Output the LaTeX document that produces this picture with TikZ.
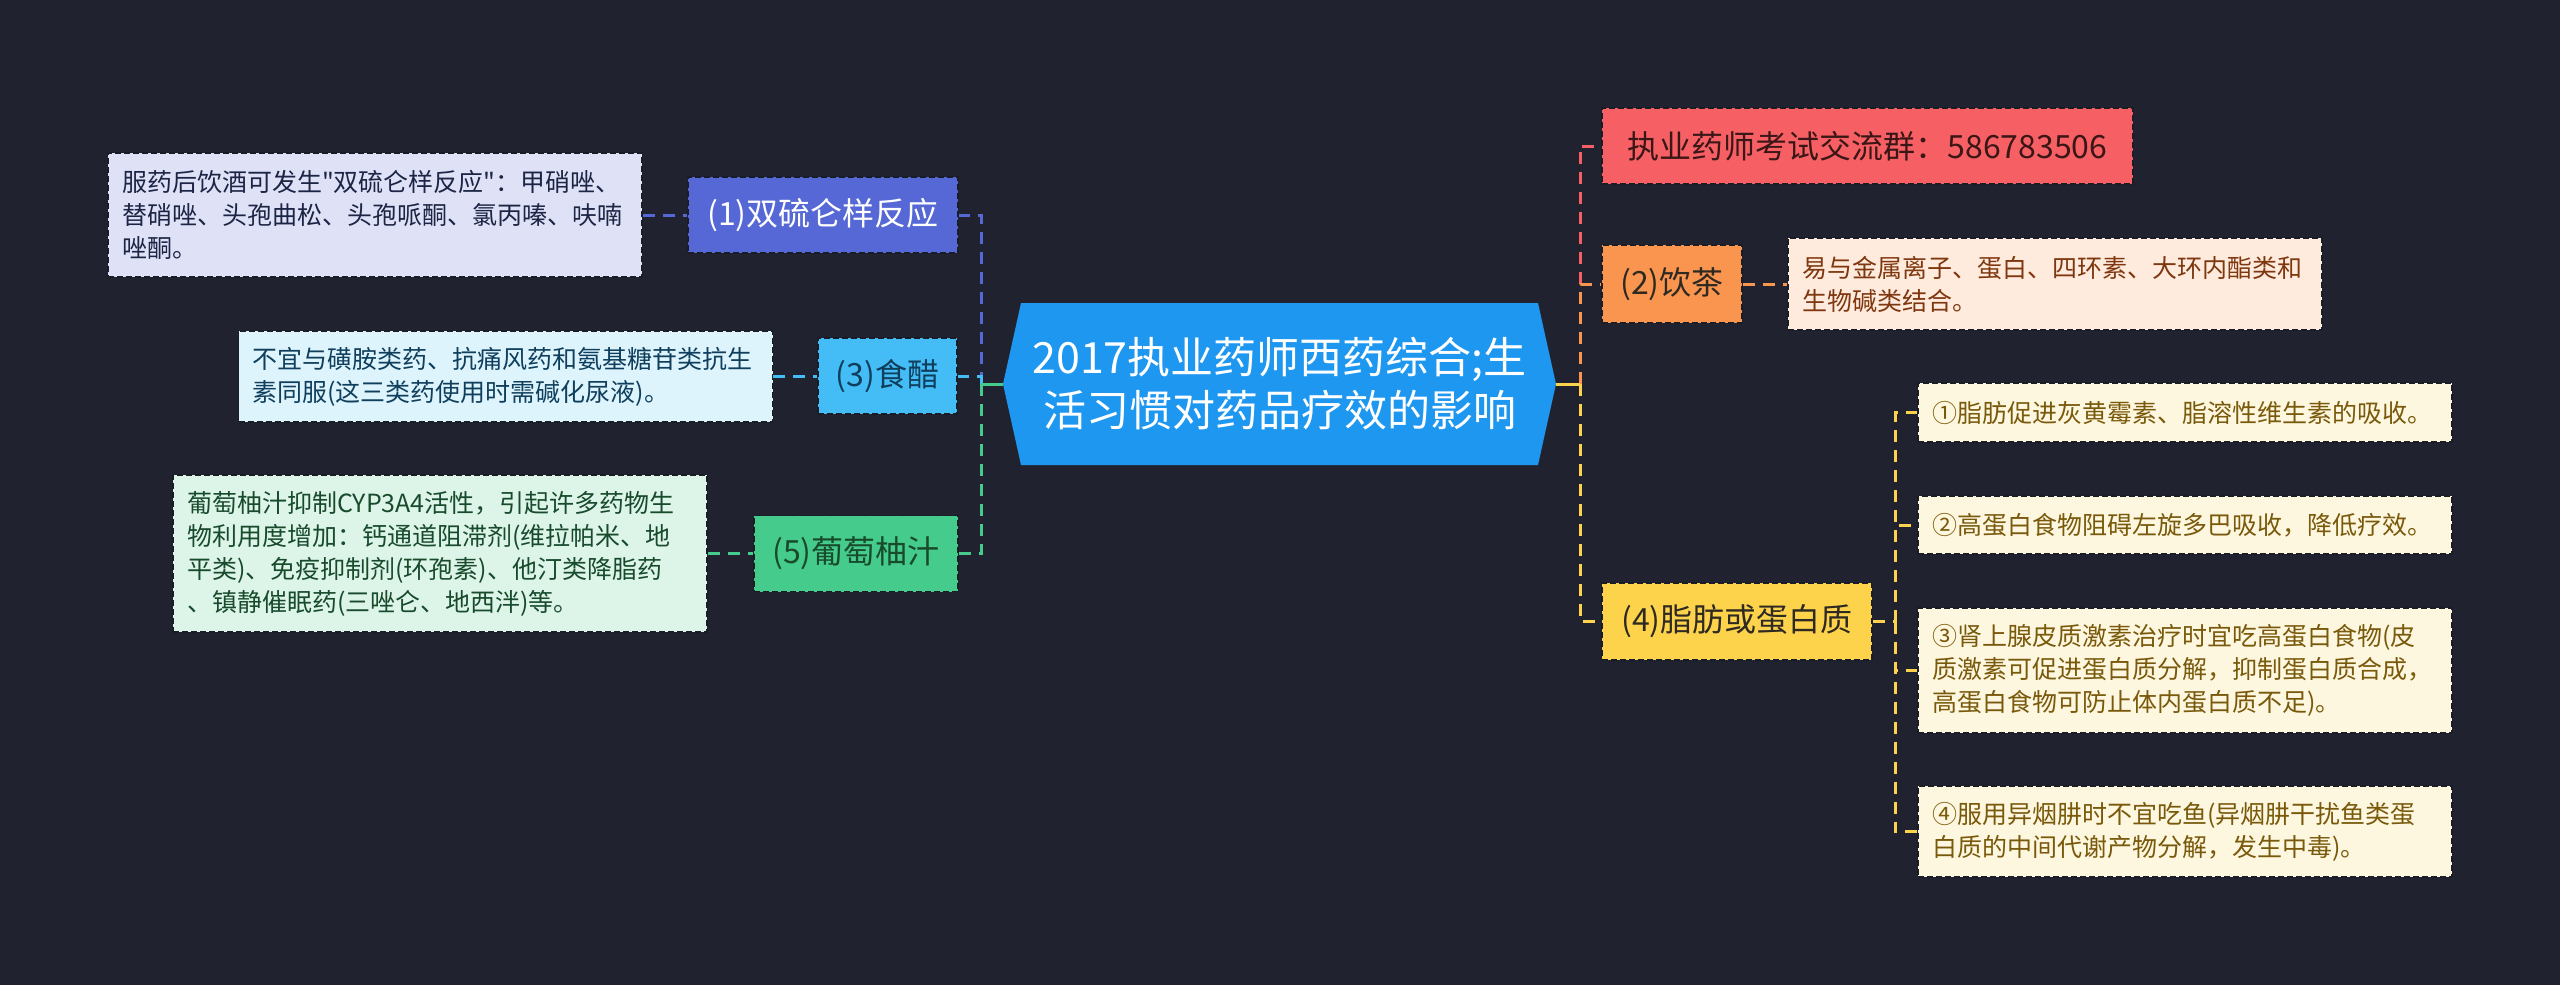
\documentclass[tikz,border=0pt]{standalone}
\usepackage{fontspec}
\setmainfont{Noto Sans CJK SC}[Ligatures=TeXOff]
\definecolor{bg}{HTML}{20232F}
\definecolor{rootc}{HTML}{1E97F0}
\definecolor{c1}{HTML}{5568D5}
\definecolor{c1l}{HTML}{DFE2F6}
\definecolor{c1t}{HTML}{1C2545}
\definecolor{c3}{HTML}{44BDF7}
\definecolor{c3l}{HTML}{DDF4FD}
\definecolor{c3t}{HTML}{0F3F5C}
\definecolor{c5}{HTML}{45CB8B}
\definecolor{c5l}{HTML}{DDF5E9}
\definecolor{c5t}{HTML}{184A2C}
\definecolor{cr}{HTML}{F66064}
\definecolor{crt}{HTML}{3B1616}
\definecolor{c2}{HTML}{FA9550}
\definecolor{c2l}{HTML}{FFEBDD}
\definecolor{c2t}{HTML}{7E370E}
\definecolor{c4}{HTML}{FDD34C}
\definecolor{c4l}{HTML}{FEF7DF}
\definecolor{c4t}{HTML}{79590B}
\definecolor{mt}{HTML}{2E2A22}
\begin{document}
\begin{tikzpicture}[x=1pt,y=-1pt,
  conn/.style={line width=3pt, dash pattern=on 12pt off 8pt},
  solidconn/.style={line width=3pt},
  border/.style={draw=bg!80!black, dash pattern=on 6pt off 3pt, line width=1.5pt},
  mainbox/.style={border, minimum height=76pt, inner sep=0pt, align=center,
    font=\fontsize{32}{40}\selectfont},
  leafbox/.style={border, text width=506pt, inner xsep=14pt, inner ysep=0pt,
    align=left, font=\fontsize{25}{33}\selectfont},
  roottext/.style={text=white, align=center, inner sep=0pt,
    font=\fontsize{43}{53}\selectfont}]
\fill[bg] (0,0) rectangle (2560,985);
\useasboundingbox (0,0) rectangle (2560,985);

% root
\fill[rootc] (1003,384) -- (1021,303) -- (1538,303) -- (1556,384) -- (1538,465) -- (1021,465) -- cycle;
\node[roottext] (root) at (1279.5,384) {2017执业药师西药综合;生\\活习惯对药品疗效的影响};
\coordinate (rootL) at (1003,384);
\coordinate (rootR) at (1556,384);
\coordinate (trL) at (981,384);
\coordinate (trR) at (1580,384);

% left main nodes
\node[mainbox, fill=c1, text=white, minimum width=270pt] (n1) at (823,215) {(1)双硫仑样反应};
\node[mainbox, fill=c3, text=c3t, minimum width=139pt] (n3) at (887.5,376) {(3)食醋};
\node[mainbox, fill=c5, text=c5t, minimum width=204pt] (n5) at (856,553.5) {(5)葡萄柚汁};

% left leaves
\node[leafbox, fill=c1l, text=c1t, minimum height=124pt] (l1) at (375,215)
  {服药后饮酒可发生"双硫仑样反应"：甲硝唑、\\替硝唑、头孢曲松、头孢哌酮、氯丙嗪、呋喃\\唑酮。};
\node[leafbox, fill=c3l, text=c3t, minimum height=91pt] (l3) at (505.5,376.5)
  {不宜与磺胺类药、抗痛风药和氨基糖苷类抗生\\素同服(这三类药使用时需碱化尿液)。};
\node[leafbox, fill=c5l, text=c5t, minimum height=157pt] (l5) at (440,553.5)
  {葡萄柚汁抑制CYP3A4活性，引起许多药物生\\物利用度增加：钙通道阻滞剂(维拉帕米、地\\平类)、免疫抑制剂(环孢素)、他汀类降脂药\\、镇静催眠药(三唑仑、地西泮)等。};

% right main nodes
\node[mainbox, fill=cr, text=crt, minimum width=531pt] (nr) at (1867.5,146) {执业药师考试交流群：586783506};
\node[mainbox, fill=c2, text=mt, minimum width=140pt, minimum height=78pt] (n2) at (1672,284) {(2)饮茶};
\node[mainbox, fill=c4, text=mt, minimum width=270pt, minimum height=77pt] (n4) at (1737,621.5) {(4)脂肪或蛋白质};

% right leaves
\node[leafbox, fill=c2l, text=c2t, minimum height=92pt] (l2) at (2055,284)
  {易与金属离子、蛋白、四环素、大环内酯类和\\生物碱类结合。};
\node[leafbox, fill=c4l, text=c4t, minimum height=59pt] (f1) at (2185,412.5)
  {①脂肪促进灰黄霉素、脂溶性维生素的吸收。};
\node[leafbox, fill=c4l, text=c4t, minimum height=58pt] (f2) at (2185,525)
  {②高蛋白食物阻碍左旋多巴吸收，降低疗效。};
\node[leafbox, fill=c4l, text=c4t, minimum height=125pt] (f3) at (2185,670.5)
  {③肾上腺皮质激素治疗时宜吃高蛋白食物(皮\\质激素可促进蛋白质分解，抑制蛋白质合成，\\高蛋白食物可防止体内蛋白质不足)。};
\node[leafbox, fill=c4l, text=c4t, minimum height=91pt] (f4) at (2185,831.5)
  {④服用异烟肼时不宜吃鱼(异烟肼干扰鱼类蛋\\白质的中间代谢产物分解，发生中毒)。};

% connectors left
\draw[conn, c1] (trL) |- (n1.east);
\draw[conn, c3] (trL) |- (n3.east);
\draw[conn, c5] (trL) |- (n5.east);
\draw[solidconn, c5] (rootL) -- (trL);
\draw[conn, c1] (l1.east) -- (n1.west);
\draw[conn, c3] (l3.east) -- (n3.west |- l3.east);
\draw[conn, c5] (l5.east) -- (n5.west);

% connectors right
\draw[conn, cr] (trR) |- (nr.west);
\draw[conn, c2] (trR) |- (n2.west);
\draw[conn, c4] (trR) |- (n4.west);
\draw[solidconn, c4] (rootR) -- (trR);
\draw[conn, c2] (n2.east) -- (l2.west);
\coordinate (sub) at (1895,621.5);
\draw[conn, c4] (n4.east) -- (sub);
\draw[conn, c4] (sub) |- (f1.west);
\draw[conn, c4] (sub) |- (f2.west);
\draw[conn, c4] (sub) |- (f3.west);
\draw[conn, c4] (sub) |- (f4.west);
\end{tikzpicture}
\end{document}
